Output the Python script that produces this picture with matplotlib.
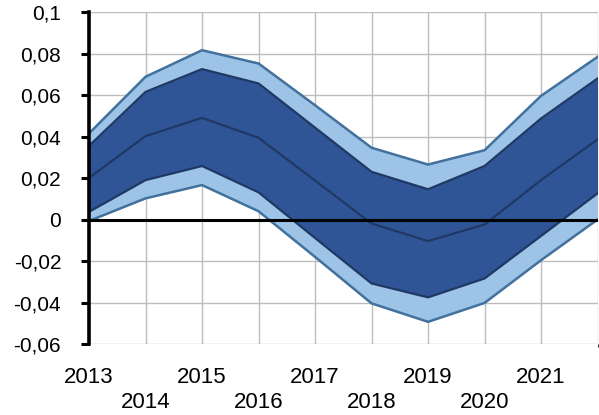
import matplotlib

matplotlib.use("Agg")
import matplotlib.pyplot as plt  # noqa: E402

# ---------------------------------------------------------------- data
years = [2013, 2014, 2015, 2016, 2017, 2018, 2019, 2020, 2021, 2022]
outer_hi = [0.0417, 0.0690, 0.0818, 0.0754, 0.0553, 0.0348, 0.0267, 0.0336, 0.0598, 0.0786]
inner_hi = [0.0357, 0.0617, 0.0727, 0.0658, 0.0445, 0.0232, 0.0148, 0.0260, 0.0489, 0.0682]
median = [0.0203, 0.0404, 0.0492, 0.0396, 0.0190, -0.0017, -0.0102, -0.0022, 0.0192, 0.0388]
inner_lo = [0.0039, 0.0192, 0.0260, 0.0133, -0.0087, -0.0306, -0.0373, -0.0282, -0.0077, 0.0128]
outer_lo = [-0.0005, 0.0104, 0.0168, 0.0042, -0.0178, -0.0402, -0.0491, -0.0400, -0.0194, 0.0002]

yticks = [-0.06, -0.04, -0.02, 0.0, 0.02, 0.04, 0.06, 0.08, 0.1]
ytick_labels = ["-0,06", "-0,04", "-0,02", "0", "0,02", "0,04", "0,06", "0,08", "0,1"]
xtick_years = [2013, 2014, 2015, 2016, 2017, 2018, 2019, 2020, 2021]

LIGHT = "#9DC3E6"
DARK = "#2F5597"
EDGE_OUT = "#41719C"
EDGE_IN = "#203864"

plt.rcParams["font.family"] = ["Liberation Sans", "DejaVu Sans"]

fig = plt.figure(figsize=(5.99, 4.15), dpi=100)
ax = fig.add_axes([0.1486, 0.170, 0.849, 0.800])

ax.fill_between(years, outer_lo, outer_hi, color=LIGHT, lw=0, zorder=2)
ax.fill_between(years, inner_lo, inner_hi, color=DARK, lw=0, zorder=3)
ax.plot(years, outer_hi, color=EDGE_OUT, lw=1.8, zorder=4)
ax.plot(years, outer_lo, color=EDGE_OUT, lw=1.8, zorder=4)
ax.plot(years, inner_hi, color=EDGE_IN, lw=1.6, zorder=4)
ax.plot(years, inner_lo, color=EDGE_IN, lw=1.6, zorder=4)
ax.plot(years, median, color=EDGE_IN, lw=1.6, zorder=4)

ax.axhline(0, color="black", lw=2.2, zorder=5)

ax.set_xlim(2013, 2022)
ax.set_ylim(-0.06, 0.1)
ax.set_yticks(yticks)
ax.set_yticklabels(ytick_labels, fontsize=15)
ax.set_xticks(xtick_years)
ax.set_xticklabels([str(y) if y % 2 else "\n" + str(y) for y in xtick_years], fontsize=16,
                   linespacing=1.28)
ax.tick_params(axis="x", length=0, pad=16)
ax.tick_params(axis="y", direction="out", length=6, width=2.2, pad=14)

ax.set_xticks(years, minor=True)
ax.grid(True, which="both", color="#BDBDBD", lw=1.0, zorder=1)
ax.set_axisbelow(True)

for s in ("top", "right", "bottom"):
    ax.spines[s].set_visible(False)
ax.spines["left"].set_linewidth(2.6)
ax.spines["left"].set_zorder(6)

fig.savefig("out.png", dpi=100)
